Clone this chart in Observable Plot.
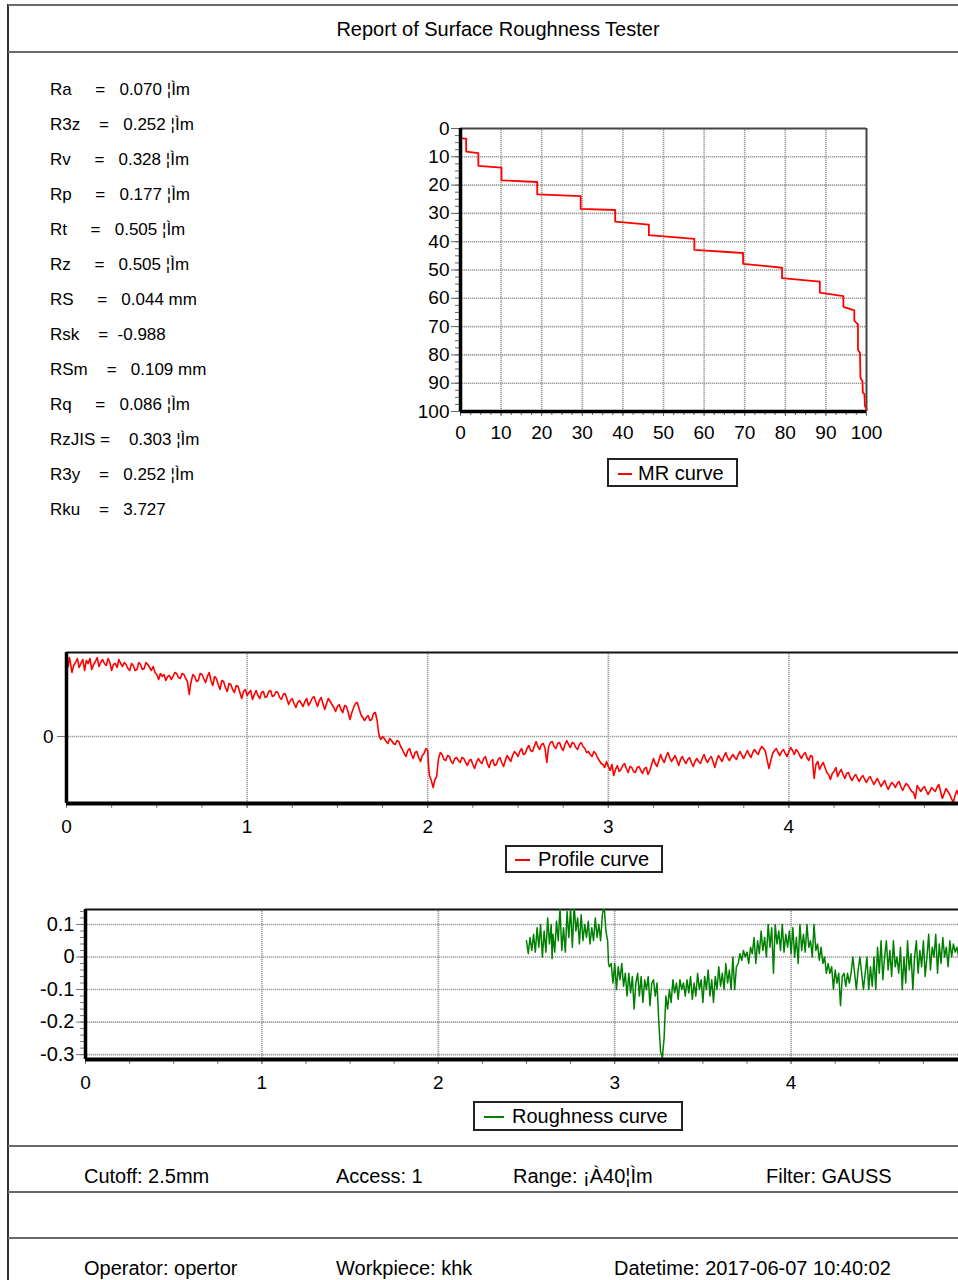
<!DOCTYPE html>
<html>
<head>
<meta charset="utf-8">
<script src="https://cdn.jsdelivr.net/npm/d3@7"></script>
<script src="https://cdn.jsdelivr.net/npm/@observablehq/plot@0.6"></script>
<style>
  html, body { margin: 0; padding: 0; background: #fff; }
  body { width: 958px; height: 1280px; overflow: hidden; }
  #page { position: relative; width: 1000px; height: 1280px; overflow: hidden;
          font-family: "Liberation Sans", Arial, Helvetica, sans-serif; color: #000; }
  .hline { position: absolute; left: 8px; width: 992px; height: 0; border-top: 2px solid #6a6a6a; }
  .vline { position: absolute; left: 7px; top: 4px; width: 0; height: 1280px; border-left: 2px solid #333; }
  .txt { position: absolute; white-space: pre; line-height: 1; }
  .legend { position: absolute; box-sizing: border-box; border: 2px solid #222; background: #fff;
            font-size: 20px; white-space: pre; }
  .legend .sw { position: absolute; height: 0; border-top: 2px solid; }
  .legend .lb { position: absolute; line-height: 1; }
</style>
</head>
<body>
<div id="page"></div>
<script>
// ---- report text ----
const reportTitle = "Report of Surface Roughness Tester";
const paramRows = [
  "Ra     =   0.070 ¦Ìm",
  "R3z    =   0.252 ¦Ìm",
  "Rv     =   0.328 ¦Ìm",
  "Rp     =   0.177 ¦Ìm",
  "Rt     =   0.505 ¦Ìm",
  "Rz     =   0.505 ¦Ìm",
  "RS     =   0.044 mm",
  "Rsk    =  -0.988",
  "RSm    =   0.109 mm",
  "Rq     =   0.086 ¦Ìm",
  "RzJIS =    0.303 ¦Ìm",
  "R3y    =   0.252 ¦Ìm",
  "Rku    =   3.727"
];
const settingsRow = ["Cutoff: 2.5mm", "Access: 1", "Range: ¡À40¦Ìm", "Filter: GAUSS"];
const infoRow = ["Operator: opertor", "Workpiece: khk", "Datetime: 2017-06-07 10:40:02"];

// ---- material ratio curve: [material ratio %, depth %] ----
const mrTicks = [0, 10, 20, 30, 40, 50, 60, 70, 80, 90, 100];
const mrLegend = "MR curve";
const mrPoints = [
  [0.4, 3.5], [1.4, 3.6], [1.4, 8.2], [4.4, 8.7], [4.4, 13.2], [10.1, 13.8], [10.1, 18.3],
  [18.9, 18.9], [18.9, 23.3], [29.6, 23.9], [29.6, 28.4], [38.1, 28.8], [38.1, 32.9],
  [46.4, 34.0], [46.4, 37.7], [57.6, 39.0], [57.6, 42.9], [69.6, 44.0], [69.6, 47.8],
  [79.2, 49.2], [79.2, 52.9], [88.5, 54.1], [88.5, 58.0], [94.3, 59.2], [94.3, 63.0],
  [97.0, 64.3], [97.0, 67.9], [97.9, 69.2], [97.9, 78.2], [98.4, 79.3], [98.5, 88.1],
  [99.0, 89.3], [99.1, 93.3], [99.5, 93.9], [99.6, 98.0], [100, 99.2]
];

// ---- primary profile: [position mm, height µm] ----
const lengthTicks = [0, 1, 2, 3, 4];
const profileTicks = [0];
const profileLegend = "Profile curve";
const profilePoints = [
  [0.00,0.83],[0.005,0.72],[0.01,0.70],[0.015,0.79],[0.02,0.76],[0.025,0.70],[0.03,0.64],[0.04,0.71],
  [0.05,0.74],[0.06,0.78],[0.07,0.69],[0.08,0.73],[0.09,0.77],[0.095,0.72],[0.10,0.66],[0.11,0.76],
  [0.12,0.73],[0.13,0.78],[0.14,0.67],[0.15,0.72],[0.16,0.75],[0.17,0.79],[0.18,0.70],[0.19,0.74],
  [0.20,0.77],[0.21,0.73],[0.22,0.71],[0.23,0.78],[0.24,0.74],[0.245,0.70],[0.25,0.66],[0.26,0.72],
  [0.27,0.73],[0.28,0.69],[0.29,0.77],[0.30,0.73],[0.31,0.70],[0.32,0.74],[0.33,0.72],[0.34,0.68],
  [0.35,0.66],[0.36,0.73],[0.37,0.71],[0.38,0.66],[0.39,0.67],[0.40,0.74],[0.41,0.72],[0.42,0.67],
  [0.43,0.68],[0.44,0.74],[0.45,0.72],[0.46,0.69],[0.47,0.66],[0.48,0.70],[0.49,0.64],[0.50,0.62],
  [0.51,0.57],[0.52,0.63],[0.53,0.60],[0.54,0.62],[0.55,0.56],[0.56,0.60],[0.57,0.61],[0.58,0.57],
  [0.59,0.60],[0.60,0.64],[0.61,0.63],[0.62,0.59],[0.63,0.58],[0.64,0.63],[0.65,0.62],[0.66,0.58],
  [0.67,0.55],[0.675,0.47],[0.68,0.42],[0.685,0.50],[0.69,0.55],[0.70,0.62],[0.71,0.60],[0.72,0.55],
  [0.73,0.56],[0.74,0.63],[0.75,0.62],[0.76,0.58],[0.77,0.54],[0.78,0.60],[0.79,0.64],[0.80,0.56],
  [0.81,0.51],[0.82,0.60],[0.83,0.58],[0.84,0.52],[0.85,0.47],[0.86,0.56],[0.87,0.55],[0.88,0.49],
  [0.89,0.45],[0.90,0.53],[0.91,0.52],[0.92,0.47],[0.93,0.44],[0.94,0.51],[0.95,0.50],[0.96,0.44],
  [0.97,0.38],[0.98,0.45],[0.99,0.47],[1.00,0.41],[1.01,0.44],[1.02,0.46],[1.03,0.37],[1.04,0.42],
  [1.05,0.46],[1.06,0.41],[1.07,0.38],[1.08,0.44],[1.09,0.45],[1.10,0.39],[1.11,0.40],[1.12,0.45],
  [1.13,0.46],[1.14,0.40],[1.15,0.41],[1.16,0.45],[1.17,0.44],[1.18,0.39],[1.19,0.37],[1.20,0.42],
  [1.21,0.43],[1.22,0.38],[1.23,0.32],[1.24,0.36],[1.25,0.38],[1.26,0.33],[1.27,0.29],[1.28,0.34],
  [1.29,0.36],[1.30,0.33],[1.31,0.30],[1.32,0.35],[1.33,0.38],[1.34,0.31],[1.35,0.34],[1.36,0.38],
  [1.37,0.40],[1.38,0.35],[1.39,0.30],[1.40,0.36],[1.41,0.39],[1.42,0.33],[1.43,0.27],[1.44,0.33],
  [1.45,0.38],[1.46,0.35],[1.47,0.32],[1.48,0.29],[1.49,0.25],[1.50,0.30],[1.51,0.32],[1.52,0.27],
  [1.53,0.24],[1.54,0.31],[1.55,0.30],[1.56,0.24],[1.57,0.17],[1.58,0.24],[1.59,0.29],[1.60,0.33],
  [1.61,0.34],[1.62,0.28],[1.63,0.22],[1.64,0.19],[1.65,0.16],[1.66,0.19],[1.67,0.21],[1.68,0.16],
  [1.69,0.17],[1.70,0.23],[1.71,0.24],[1.72,0.16],[1.725,0.08],[1.73,0.02],[1.735,-0.01],[1.74,-0.03],
  [1.75,0.00],[1.76,-0.02],[1.77,-0.05],[1.78,-0.07],[1.79,-0.02],[1.80,-0.04],[1.81,-0.07],[1.82,-0.08],
  [1.83,-0.04],[1.84,-0.05],[1.85,-0.10],[1.86,-0.13],[1.87,-0.17],[1.88,-0.20],[1.89,-0.14],[1.90,-0.12],
  [1.91,-0.18],[1.92,-0.22],[1.93,-0.16],[1.94,-0.15],[1.95,-0.21],[1.96,-0.25],[1.97,-0.19],[1.98,-0.17],
  [1.99,-0.12],[2.00,-0.14],[2.005,-0.30],[2.01,-0.39],[2.02,-0.44],[2.03,-0.51],[2.04,-0.43],[2.05,-0.40],
  [2.055,-0.30],[2.06,-0.22],[2.07,-0.16],[2.08,-0.18],[2.09,-0.23],[2.10,-0.24],[2.11,-0.19],[2.12,-0.20],
  [2.13,-0.25],[2.14,-0.27],[2.15,-0.22],[2.16,-0.21],[2.17,-0.24],[2.18,-0.26],[2.19,-0.21],[2.20,-0.22],
  [2.21,-0.26],[2.22,-0.29],[2.23,-0.24],[2.24,-0.23],[2.25,-0.28],[2.26,-0.32],[2.27,-0.26],[2.28,-0.22],
  [2.29,-0.25],[2.30,-0.27],[2.31,-0.22],[2.32,-0.20],[2.33,-0.27],[2.34,-0.31],[2.35,-0.25],[2.36,-0.23],
  [2.37,-0.29],[2.38,-0.28],[2.39,-0.23],[2.40,-0.21],[2.41,-0.26],[2.42,-0.30],[2.43,-0.24],[2.44,-0.19],
  [2.45,-0.22],[2.46,-0.25],[2.47,-0.19],[2.48,-0.15],[2.49,-0.17],[2.50,-0.20],[2.51,-0.15],[2.52,-0.12],
  [2.53,-0.18],[2.54,-0.17],[2.55,-0.12],[2.56,-0.09],[2.57,-0.14],[2.58,-0.15],[2.59,-0.10],[2.60,-0.05],
  [2.61,-0.10],[2.62,-0.13],[2.63,-0.08],[2.64,-0.07],[2.65,-0.12],[2.655,-0.20],[2.66,-0.26],[2.665,-0.17],
  [2.67,-0.10],[2.68,-0.06],[2.69,-0.05],[2.70,-0.10],[2.71,-0.12],[2.72,-0.07],[2.73,-0.06],[2.74,-0.11],
  [2.75,-0.14],[2.76,-0.08],[2.77,-0.04],[2.78,-0.08],[2.79,-0.11],[2.80,-0.06],[2.81,-0.07],[2.82,-0.11],
  [2.83,-0.13],[2.84,-0.08],[2.85,-0.06],[2.86,-0.10],[2.87,-0.12],[2.88,-0.16],[2.89,-0.15],[2.90,-0.18],
  [2.91,-0.20],[2.92,-0.15],[2.93,-0.17],[2.94,-0.21],[2.95,-0.24],[2.96,-0.27],[2.97,-0.28],[2.98,-0.31],
  [2.99,-0.25],[3.00,-0.30],[3.01,-0.34],[3.02,-0.28],[3.03,-0.39],[3.04,-0.33],[3.05,-0.29],[3.06,-0.35],
  [3.07,-0.33],[3.08,-0.29],[3.09,-0.27],[3.10,-0.32],[3.11,-0.36],[3.12,-0.30],[3.13,-0.31],[3.14,-0.35],
  [3.15,-0.36],[3.16,-0.31],[3.17,-0.30],[3.18,-0.34],[3.19,-0.37],[3.20,-0.32],[3.21,-0.31],[3.22,-0.38],
  [3.23,-0.34],[3.24,-0.28],[3.25,-0.22],[3.26,-0.27],[3.27,-0.30],[3.28,-0.24],[3.29,-0.18],[3.30,-0.23],
  [3.31,-0.26],[3.32,-0.20],[3.33,-0.16],[3.34,-0.21],[3.35,-0.25],[3.36,-0.22],[3.37,-0.19],[3.38,-0.24],
  [3.39,-0.29],[3.40,-0.23],[3.41,-0.20],[3.42,-0.24],[3.43,-0.27],[3.44,-0.23],[3.45,-0.21],[3.46,-0.26],
  [3.47,-0.30],[3.48,-0.25],[3.49,-0.22],[3.50,-0.25],[3.51,-0.27],[3.52,-0.22],[3.53,-0.18],[3.54,-0.23],
  [3.55,-0.26],[3.56,-0.22],[3.57,-0.20],[3.58,-0.25],[3.59,-0.31],[3.60,-0.24],[3.61,-0.19],[3.62,-0.22],
  [3.63,-0.25],[3.64,-0.20],[3.65,-0.16],[3.66,-0.21],[3.67,-0.24],[3.68,-0.21],[3.69,-0.18],[3.70,-0.21],
  [3.71,-0.23],[3.72,-0.18],[3.73,-0.15],[3.74,-0.19],[3.75,-0.22],[3.76,-0.18],[3.77,-0.14],[3.78,-0.18],
  [3.79,-0.21],[3.80,-0.16],[3.81,-0.13],[3.82,-0.16],[3.83,-0.18],[3.84,-0.13],[3.85,-0.10],[3.86,-0.12],
  [3.87,-0.15],[3.88,-0.24],[3.89,-0.32],[3.90,-0.24],[3.91,-0.17],[3.92,-0.14],[3.93,-0.12],[3.94,-0.16],
  [3.95,-0.19],[3.96,-0.15],[3.97,-0.13],[3.98,-0.17],[3.99,-0.20],[4.00,-0.15],[4.01,-0.11],[4.02,-0.14],
  [4.03,-0.18],[4.04,-0.13],[4.05,-0.15],[4.06,-0.19],[4.07,-0.22],[4.08,-0.18],[4.09,-0.16],[4.10,-0.21],
  [4.11,-0.24],[4.12,-0.19],[4.13,-0.20],[4.135,-0.33],[4.14,-0.42],[4.145,-0.34],[4.15,-0.28],[4.16,-0.25],
  [4.17,-0.33],[4.18,-0.29],[4.19,-0.26],[4.20,-0.31],[4.21,-0.36],[4.22,-0.38],[4.23,-0.43],[4.24,-0.37],
  [4.25,-0.35],[4.26,-0.31],[4.27,-0.40],[4.28,-0.36],[4.29,-0.33],[4.30,-0.38],[4.31,-0.42],[4.32,-0.37],
  [4.33,-0.36],[4.34,-0.41],[4.35,-0.44],[4.36,-0.40],[4.37,-0.38],[4.38,-0.42],[4.39,-0.45],[4.40,-0.41],
  [4.41,-0.39],[4.42,-0.43],[4.43,-0.46],[4.44,-0.42],[4.45,-0.40],[4.46,-0.44],[4.47,-0.48],[4.48,-0.45],
  [4.49,-0.42],[4.50,-0.46],[4.51,-0.50],[4.52,-0.47],[4.53,-0.44],[4.54,-0.49],[4.55,-0.53],[4.56,-0.49],
  [4.57,-0.46],[4.58,-0.48],[4.59,-0.51],[4.60,-0.47],[4.61,-0.45],[4.62,-0.50],[4.63,-0.54],[4.64,-0.50],
  [4.65,-0.47],[4.66,-0.49],[4.67,-0.52],[4.68,-0.55],[4.69,-0.56],[4.70,-0.62],[4.71,-0.49],[4.72,-0.52],
  [4.73,-0.55],[4.74,-0.52],[4.75,-0.50],[4.76,-0.54],[4.77,-0.58],[4.78,-0.55],[4.79,-0.51],[4.80,-0.53],
  [4.81,-0.55],[4.82,-0.51],[4.83,-0.48],[4.84,-0.55],[4.85,-0.62],[4.86,-0.57],[4.87,-0.52],[4.88,-0.55],
  [4.89,-0.58],[4.90,-0.62],[4.91,-0.66],[4.92,-0.59],[4.93,-0.54],[4.94,-0.59],[4.95,-0.63],[4.96,-0.59],
  [4.97,-0.56],[4.98,-0.58],[4.99,-0.60]
];

// ---- roughness profile: [position mm, height µm] ----
const roughnessTicks = [0.1, 0, -0.1, -0.2, -0.3];
const roughnessLegend = "Roughness curve";
const roughnessPoints = [
  [2.50,0.05],[2.51,0.01],[2.52,0.06],[2.53,0.02],[2.54,0.07],[2.55,0.015],[2.56,0.09],[2.57,0.03],
  [2.58,0.10],[2.59,0.0],[2.60,0.08],[2.61,0.015],[2.62,0.12],[2.63,0.04],[2.64,0.10],[2.645,-0.005],
  [2.65,0.07],[2.66,0.015],[2.67,0.11],[2.68,0.05],[2.69,0.15],[2.70,0.02],[2.71,0.09],[2.72,0.015],
  [2.73,0.14],[2.74,0.06],[2.75,0.15],[2.76,0.03],[2.77,0.16],[2.78,0.08],[2.79,0.12],[2.80,0.04],
  [2.81,0.13],[2.82,0.05],[2.83,0.10],[2.84,0.06],[2.85,0.11],[2.86,0.04],[2.87,0.09],[2.88,0.05],
  [2.89,0.12],[2.90,0.06],[2.91,0.10],[2.92,0.05],[2.93,0.13],[2.94,0.16],[2.95,0.08],[2.96,0.05],
  [2.965,-0.02],[2.97,-0.03],[2.98,-0.02],[2.99,-0.08],[3.00,-0.02],[3.01,-0.10],[3.02,-0.03],[3.03,-0.07],
  [3.04,-0.02],[3.05,-0.09],[3.06,-0.05],[3.07,-0.12],[3.08,-0.05],[3.09,-0.11],[3.10,-0.06],[3.11,-0.16],
  [3.12,-0.08],[3.13,-0.05],[3.14,-0.12],[3.15,-0.06],[3.16,-0.14],[3.17,-0.07],[3.18,-0.10],[3.19,-0.06],
  [3.20,-0.15],[3.21,-0.08],[3.22,-0.07],[3.23,-0.12],[3.24,-0.08],[3.25,-0.20],[3.26,-0.29],[3.27,-0.31],
  [3.28,-0.25],[3.29,-0.12],[3.30,-0.16],[3.31,-0.10],[3.32,-0.14],[3.33,-0.07],[3.34,-0.11],[3.35,-0.08],
  [3.36,-0.13],[3.37,-0.07],[3.38,-0.10],[3.39,-0.08],[3.40,-0.12],[3.41,-0.07],[3.42,-0.11],[3.43,-0.06],
  [3.44,-0.13],[3.45,-0.08],[3.46,-0.12],[3.47,-0.05],[3.48,-0.10],[3.49,-0.07],[3.50,-0.14],[3.51,-0.06],
  [3.52,-0.10],[3.53,-0.04],[3.54,-0.12],[3.55,-0.07],[3.56,-0.14],[3.57,-0.06],[3.58,-0.10],[3.59,-0.03],
  [3.60,-0.09],[3.61,-0.05],[3.62,-0.10],[3.63,-0.02],[3.64,-0.08],[3.65,-0.04],[3.66,-0.10],[3.67,0.00],
  [3.68,-0.10],[3.69,-0.03],[3.70,-0.02],[3.71,0.01],[3.72,-0.01],[3.73,0.02],[3.74,0.00],[3.75,0.015],
  [3.76,-0.02],[3.77,0.03],[3.78,0.01],[3.79,0.06],[3.80,-0.02],[3.81,0.05],[3.82,0.01],[3.83,0.08],
  [3.84,0.02],[3.85,0.06],[3.86,0.0],[3.87,0.10],[3.88,0.03],[3.89,0.09],[3.90,-0.05],[3.91,0.10],
  [3.92,0.04],[3.93,0.08],[3.94,0.02],[3.95,0.10],[3.96,0.015],[3.97,0.07],[3.98,0.03],[3.99,0.08],
  [4.00,0.01],[4.01,0.09],[4.02,0.0],[4.03,0.06],[4.04,-0.02],[4.05,0.10],[4.06,0.02],[4.07,0.07],
  [4.08,0.015],[4.09,0.10],[4.10,0.03],[4.11,0.05],[4.12,0.0],[4.13,0.10],[4.14,0.02],[4.15,0.04],
  [4.16,-0.01],[4.17,0.03],[4.18,-0.02],[4.19,0.0],[4.20,-0.05],[4.21,-0.02],[4.22,-0.05],[4.23,-0.03],
  [4.24,-0.10],[4.25,-0.04],[4.26,-0.08],[4.27,-0.05],[4.28,-0.15],[4.29,-0.06],[4.30,-0.05],[4.31,-0.09],
  [4.32,-0.05],[4.33,-0.08],[4.34,-0.05],[4.35,0.0],[4.36,-0.05],[4.37,-0.10],[4.38,-0.04],[4.39,0.0],
  [4.40,-0.05],[4.41,-0.10],[4.42,-0.05],[4.43,0.0],[4.44,-0.10],[4.45,-0.03],[4.46,-0.09],[4.47,0.0],
  [4.48,-0.10],[4.49,0.03],[4.50,-0.05],[4.51,0.05],[4.52,-0.07],[4.53,0.0],[4.54,0.05],[4.55,-0.04],
  [4.56,0.02],[4.57,-0.06],[4.58,0.05],[4.59,-0.03],[4.60,0.0],[4.61,-0.05],[4.62,0.03],[4.63,-0.10],
  [4.64,0.0],[4.65,-0.08],[4.66,0.05],[4.67,-0.04],[4.68,0.01],[4.69,-0.10],[4.70,0.0],[4.71,0.05],
  [4.72,-0.05],[4.73,0.02],[4.74,-0.03],[4.75,0.05],[4.76,-0.06],[4.77,0.0],[4.78,0.07],[4.79,-0.04],
  [4.80,0.03],[4.81,0.0],[4.82,0.07],[4.83,-0.05],[4.84,0.04],[4.85,-0.02],[4.86,0.06],[4.87,0.0],
  [4.88,0.03],[4.89,-0.03],[4.90,0.05],[4.91,0.0],[4.92,0.04],[4.93,0.015],[4.94,0.03],[4.95,0.0],
  [4.96,0.05],[4.97,0.0]
];

// ---- page construction ----
const FONT = '"Liberation Sans", Arial, Helvetica, sans-serif';
const page = document.getElementById("page");

function add(html) {
  const t = document.createElement("template");
  t.innerHTML = html.trim();
  const el = t.content.firstChild;
  page.appendChild(el);
  return el;
}
function text(str, left, cy, size, anchor) {
  const el = document.createElement("div");
  el.className = "txt";
  el.textContent = str;
  el.style.fontSize = size + "px";
  el.style.top = (cy - size * 0.5) + "px";
  el.style.left = left + "px";
  if (anchor === "middle") el.style.transform = "translateX(-50%)";
  page.appendChild(el);
  return el;
}
function place(node, left, top) {
  node.style.position = "absolute";
  node.style.left = left + "px";
  node.style.top = top + "px";
  page.appendChild(node);
}
function legend(label, color, left, top, width, height, swLeft, swWidth, textLeft) {
  const box = add(`<div class="legend"></div>`);
  Object.assign(box.style, {left: left + "px", top: top + "px", width: width + "px", height: height + "px"});
  const sw = document.createElement("div");
  sw.className = "sw";
  Object.assign(sw.style, {left: swLeft + "px", width: swWidth + "px", top: (height / 2 - 2) + "px", borderColor: color});
  box.appendChild(sw);
  const lb = document.createElement("div");
  lb.className = "lb";
  lb.textContent = label;
  Object.assign(lb.style, {left: textLeft + "px", top: (height / 2 - 12) + "px"});
  box.appendChild(lb);
}

// frame lines of the report sheet
add(`<div class="vline"></div>`);
[5, 52, 1146, 1192, 1238].forEach(y => { const l = add(`<div class="hline"></div>`); l.style.top = (y - 1) + "px"; });

text(reportTitle, 498, 29, 20, "middle");
paramRows.forEach((row, i) => text(row, 50, 89 + i * 35, 17));

[84, 336, 513, 766].forEach((x, i) => text(settingsRow[i], x, 1176, 20));
[84, 336, 614].forEach((x, i) => text(infoRow[i], x, 1268, 20));

const gridStyle = {stroke: "#9c9c9c", strokeWidth: 1.6, strokeDasharray: "1.3,0.7", strokeOpacity: 1};
const plotStyle = {fontFamily: FONT, overflow: "visible", background: "none", color: "#000"};

// material ratio chart
const mrChart = Plot.plot({
  width: 496, height: 341, marginLeft: 60, marginTop: 18, marginRight: 30, marginBottom: 40,
  style: {...plotStyle, fontSize: "19px"},
  x: {domain: [0, 100]},
  y: {domain: [0, 100], reverse: true},
  marks: [
    Plot.gridX(mrTicks.slice(1, -1), gridStyle),
    Plot.gridY(mrTicks.slice(1, -1), gridStyle),
    Plot.axisX(d3.range(0, 100.01, 2.5), {tickSize: 4, stroke: "#666", fill: "none", label: null}),
    Plot.axisY(d3.range(0, 100.01, 2.5), {tickSize: 5, stroke: "#666", fill: "none", label: null}),
    Plot.axisX(mrTicks, {tickSize: 5, tickPadding: 9, stroke: "#666", fill: "#000", fontSize: 19, label: null, tickFormat: d => String(d)}),
    Plot.axisY(mrTicks, {tickSize: 9, tickPadding: 2, stroke: "#666", fill: "#000", fontSize: 19, label: null, tickFormat: d => String(d)}),
    Plot.ruleY([0], {stroke: "#444", strokeWidth: 2}),
    Plot.ruleX([100], {stroke: "#444", strokeWidth: 2}),
    Plot.line(mrPoints, {x: d => d[0], y: d => d[1], stroke: "#ff0000", strokeWidth: 1.8}),
    Plot.ruleX([0], {stroke: "#000", strokeWidth: 3.5}),
    Plot.ruleY([100], {stroke: "#000", strokeWidth: 3.5})
  ]
});
place(mrChart, 400, 110);
legend(mrLegend, "#ff0000", 607, 458, 131, 29, 9, 14, 29);

// primary profile chart
const profileChart = Plot.plot({
  width: 963, height: 203, marginLeft: 50, marginTop: 12, marginRight: 10, marginBottom: 40,
  style: {...plotStyle, fontSize: "19px"},
  x: {domain: [0, 5]},
  y: {domain: [-0.67, 0.84]},
  marks: [
    Plot.gridX(lengthTicks.slice(1), gridStyle),
    Plot.gridY(profileTicks, gridStyle),
    Plot.axisX(d3.range(0, 5.01, 0.25), {tickSize: 5, stroke: "#777", fill: "none", label: null}),
    Plot.axisX(lengthTicks, {tickSize: 5, tickPadding: 11, stroke: "#777", fill: "#000", fontSize: 19, label: null, tickFormat: d => String(d)}),
    Plot.axisY(profileTicks, {tickSize: 9, tickPadding: 4, stroke: "#777", fill: "#000", fontSize: 19, label: null, tickFormat: d => String(d)}),
    Plot.ruleY([0.84], {stroke: "#111", strokeWidth: 2}),
    Plot.line(profilePoints, {x: d => d[0], y: d => d[1], stroke: "#ff0000", strokeWidth: 1.6, clip: true}),
    Plot.ruleX([0], {stroke: "#000", strokeWidth: 3.5}),
    Plot.ruleY([-0.67], {stroke: "#000", strokeWidth: 4})
  ]
});
place(profileChart, 16, 640);
legend(profileLegend, "#ff0000", 505, 845, 158, 28, 8, 15, 31);

// roughness chart
const roughnessChart = Plot.plot({
  width: 952, height: 204, marginLeft: 60, marginTop: 14, marginRight: 10, marginBottom: 40,
  style: {...plotStyle, fontSize: "19px"},
  x: {domain: [0, 5]},
  y: {domain: [-0.315, 0.146]},
  marks: [
    Plot.gridX(lengthTicks.slice(1), gridStyle),
    Plot.gridY(roughnessTicks, gridStyle),
    Plot.axisX(d3.range(0, 5.01, 0.25), {tickSize: 5, stroke: "#777", fill: "none", label: null}),
    Plot.axisY(d3.range(-0.3, 0.145, 0.02), {tickSize: 5, stroke: "#777", fill: "none", label: null}),
    Plot.axisX(lengthTicks, {tickSize: 5, tickPadding: 11, stroke: "#777", fill: "#000", fontSize: 19, label: null, tickFormat: d => String(d)}),
    Plot.axisY(roughnessTicks, {tickSize: 9, tickPadding: 2, stroke: "#777", fill: "#000", fontSize: 20, label: null, tickFormat: d => String(d)}),
    Plot.ruleY([0.146], {stroke: "#111", strokeWidth: 2}),
    Plot.line(roughnessPoints, {x: d => d[0], y: d => d[1], stroke: "#008000", strokeWidth: 1.5, clip: true}),
    Plot.ruleX([0], {stroke: "#000", strokeWidth: 3.5}),
    Plot.ruleY([-0.315], {stroke: "#000", strokeWidth: 4})
  ]
});
place(roughnessChart, 25, 895);
legend(roughnessLegend, "#008000", 473, 1101, 210, 30, 9, 20, 37);
</script>
</body>
</html>
